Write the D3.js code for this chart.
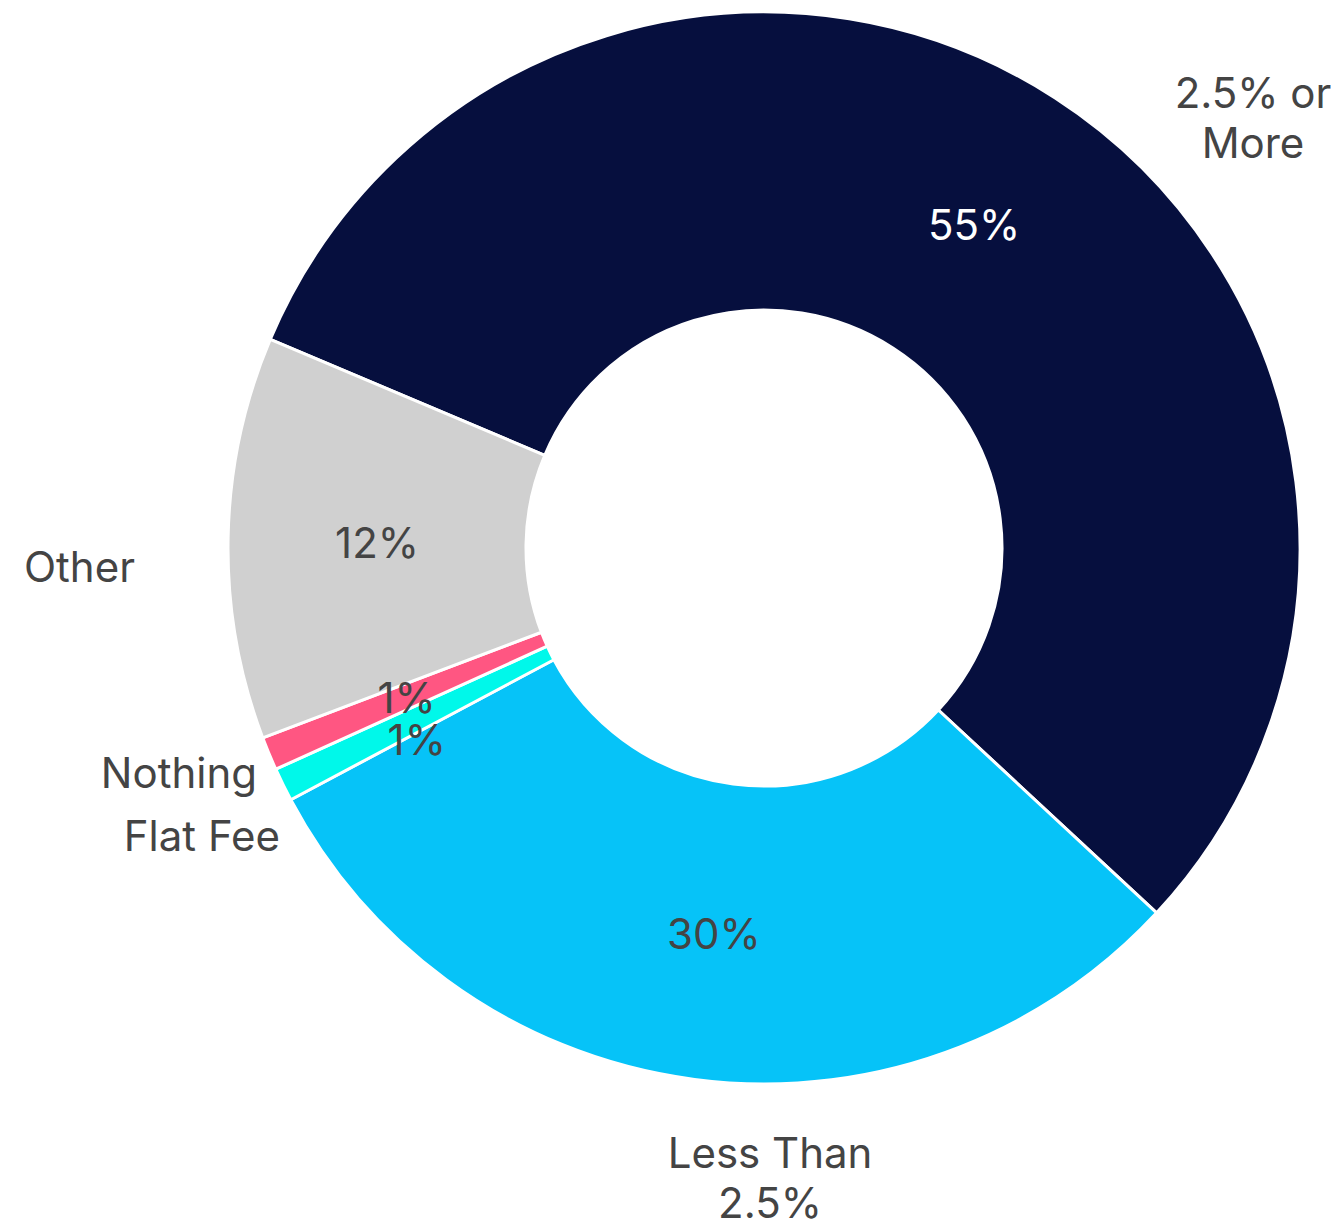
<!DOCTYPE html>
<html>
<head>
<meta charset="utf-8">
<script src="https://cdn.jsdelivr.net/npm/d3@7"></script>
<style>
  html, body { margin: 0; padding: 0; background: #ffffff; }
  svg { display: block; }
  text { font-family: Inter, "Noto Sans", sans-serif; }
</style>
</head>
<body>
<svg id="chart" width="1333" height="1224"></svg>
<script>
// Share of respondents by fee answer (percent)
const categories = ["2.5% or More", "Less Than 2.5%", "Flat Fee", "Nothing", "Other"];
const values = [55, 30, 1, 1, 12];
const colors = ["#060f3e", "#06c3f8", "#00f8ea", "#ff5682", "#d0d0d0"];
const valueTextColors = ["#ffffff", "#444444", "#444444", "#444444", "#444444"];

// Layout
const W = 1333, H = 1224;
const cx = 764, cy = 548;
const outerR = 536, innerR = 238;
const startDeg = -67.1;
const fontSize = 42;
const lineGap = 50;

// Outer category labels: offset from the centre, text anchor, wrapped lines
const outerLabels = {
  "2.5% or More":   { dx: 489,  dy: -430, anchor: "middle", lines: ["2.5% or", "More"] },
  "Less Than 2.5%": { dx: 6,    dy: 630,  anchor: "middle", lines: ["Less Than", "2.5%"] },
  "Flat Fee":       { dx: -484, dy: 288,  anchor: "end",    lines: ["Flat Fee"] },
  "Nothing":        { dx: -507, dy: 225,  anchor: "end",    lines: ["Nothing"] },
  "Other":          { dx: -629, dy: 19,   anchor: "end",    lines: ["Other"] }
};

const data = categories.map((c, i) => ({ name: c, value: values[i], color: colors[i], textColor: valueTextColors[i] }));

const svg = d3.select("#chart");
const g = svg.append("g").attr("transform", `translate(${cx},${cy})`);

const pie = d3.pie()
  .sort(null)
  .value(d => d.value)
  .startAngle(startDeg * Math.PI / 180)
  .endAngle(startDeg * Math.PI / 180 + 2 * Math.PI);

const arc = d3.arc().innerRadius(innerR).outerRadius(outerR);
const arcs = pie(data);

g.selectAll("path.slice")
  .data(arcs)
  .join("path")
  .attr("class", "slice")
  .attr("d", arc)
  .attr("fill", d => d.data.color)
  .attr("stroke", "#ffffff")
  .attr("stroke-width", 3)
  .attr("stroke-linejoin", "round");

// Value labels at arc centroids, nudged apart vertically when they collide
const valueLabels = arcs.map(a => {
  const [x, y] = arc.centroid(a);
  return { x, y, text: `${a.data.value}%`, color: a.data.textColor };
});
const sorted = valueLabels.filter(l => l.x < 0).sort((a, b) => a.y - b.y);
for (let i = 1; i < sorted.length; i++) {
  const minGap = 42;
  if (Math.abs(sorted[i].x - sorted[i - 1].x) < 80 && sorted[i].y - sorted[i - 1].y < minGap) {
    sorted[i].y = sorted[i - 1].y + minGap;
  }
}

g.selectAll("text.value")
  .data(valueLabels)
  .join("text")
  .attr("class", "value")
  .attr("x", d => d.x)
  .attr("y", d => d.y)
  .attr("dy", "0.4em")
  .attr("text-anchor", "middle")
  .attr("font-size", fontSize)
  .attr("fill", d => d.color)
  .text(d => d.text);

// Category labels outside the ring
const cat = g.selectAll("text.category")
  .data(arcs)
  .join("text")
  .attr("class", "category")
  .attr("text-anchor", d => outerLabels[d.data.name].anchor)
  .attr("font-size", fontSize)
  .attr("fill", "#444444");

cat.each(function (d) {
  const L = outerLabels[d.data.name];
  const n = L.lines.length;
  const sel = d3.select(this);
  L.lines.forEach((line, i) => {
    sel.append("tspan")
      .attr("x", L.dx)
      .attr("y", L.dy + (i - (n - 1) / 2) * lineGap)
      .attr("dy", "0.36em")
      .text(line);
  });
});
</script>
</body>
</html>
